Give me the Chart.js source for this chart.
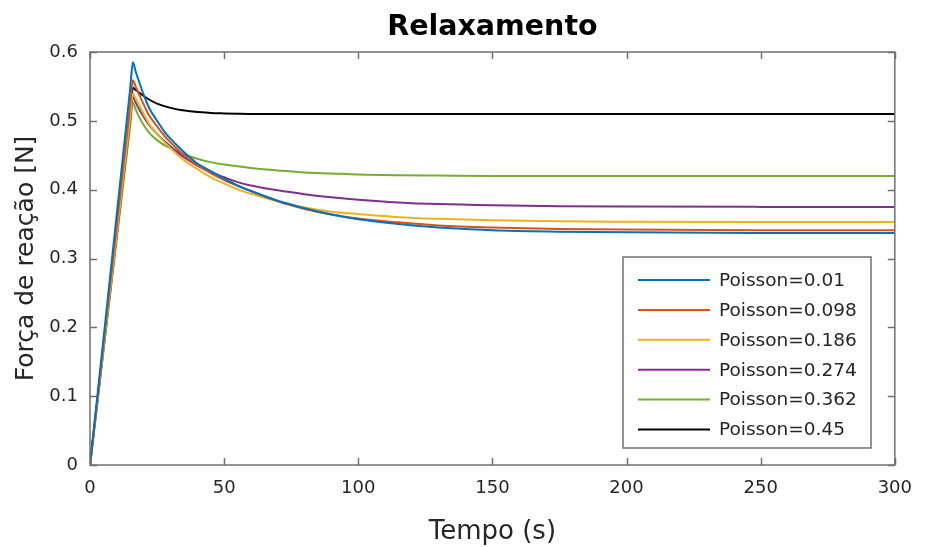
<!DOCTYPE html>
<html>
<head>
<meta charset="utf-8">
<script src="https://cdn.jsdelivr.net/npm/chart.js@4.4.1/dist/chart.umd.min.js"></script>
<style>
  html, body { margin: 0; padding: 0; background: #ffffff; }
  canvas { display: block; }
</style>
</head>
<body>
<canvas id="c" width="925" height="547"></canvas>
<script>
// ---------- data ----------
const chartTitle = 'Relaxamento';
const xAxisTitle = 'Tempo (s)';
const yAxisTitle = 'Força de reação [N]';

const time = [0, 15, 16, 17, 18, 20, 22, 25, 28, 32, 36, 40, 45, 50, 55, 60, 70, 80, 90, 100, 115, 130, 150, 175, 200, 250, 300];

const seriesLabels = ['Poisson=0.01', 'Poisson=0.098', 'Poisson=0.186', 'Poisson=0.274', 'Poisson=0.362', 'Poisson=0.45'];

const poisson001  = [0, 0.548, 0.585, 0.572, 0.560, 0.538, 0.519, 0.500, 0.483, 0.466, 0.451, 0.438, 0.427, 0.416, 0.406, 0.398, 0.384, 0.373, 0.364, 0.357, 0.350, 0.345, 0.341, 0.339, 0.338, 0.337, 0.337];
const poisson0098 = [0, 0.524, 0.559, 0.550, 0.541, 0.524, 0.508, 0.492, 0.477, 0.461, 0.447, 0.436, 0.424, 0.414, 0.406, 0.398, 0.383, 0.372, 0.364, 0.358, 0.3525, 0.348, 0.345, 0.343, 0.342, 0.341, 0.341];
const poisson0186 = [0, 0.506, 0.540, 0.532, 0.525, 0.510, 0.496, 0.481, 0.468, 0.453, 0.440, 0.430, 0.418, 0.409, 0.4005, 0.394, 0.383, 0.374, 0.368, 0.3645, 0.360, 0.3576, 0.3556, 0.354, 0.3535, 0.353, 0.353];
const poisson0274 = [0, 0.502, 0.535, 0.527, 0.519, 0.506, 0.494, 0.481, 0.4695, 0.456, 0.4445, 0.435, 0.4255, 0.418, 0.411, 0.406, 0.399, 0.3935, 0.389, 0.3855, 0.3815, 0.379, 0.3772, 0.376, 0.3755, 0.375, 0.375];
const poisson0362 = [0, 0.494, 0.527, 0.517, 0.508, 0.494, 0.483, 0.472, 0.464, 0.457, 0.450, 0.445, 0.440, 0.4365, 0.434, 0.4315, 0.428, 0.425, 0.4235, 0.422, 0.421, 0.4205, 0.420, 0.420, 0.420, 0.420, 0.420];
const poisson045  = [0, 0.514, 0.548, 0.545, 0.542, 0.536, 0.531, 0.525, 0.521, 0.517, 0.5145, 0.513, 0.5115, 0.5108, 0.5103, 0.510, 0.510, 0.510, 0.510, 0.510, 0.510, 0.510, 0.510, 0.510, 0.510, 0.510, 0.510];

const seriesValues = [poisson001, poisson0098, poisson0186, poisson0274, poisson0362, poisson045];
const seriesColors = ['#0072BD', '#D95319', '#EDB120', '#7E2F8E', '#77AC30', '#000000'];

const xTicks = [0, 50, 100, 150, 200, 250, 300];
const yTicks = [0, 0.1, 0.2, 0.3, 0.4, 0.5, 0.6];
const xMin = 0, xMax = 300, yMin = 0, yMax = 0.6;

// ---------- styling ----------
const FONT = '"DejaVu Sans", "Liberation Sans", Arial, sans-serif';
const AXIS_COLOR = '#262626';
const FRAME_COLOR = '#707070';

const datasets = seriesLabels.map((lab, i) => ({
  label: lab,
  data: time.map((t, k) => ({ x: t, y: seriesValues[i][k] })),
  borderColor: seriesColors[i],
  backgroundColor: seriesColors[i],
  borderWidth: 2,
  pointRadius: 0,
  cubicInterpolationMode: 'monotone',
  fill: false
}));

const matlabDecor = {
  id: 'matlabDecor',
  afterDraw(chart) {
    const { ctx, chartArea: a, scales } = chart;
    const xs = scales.x, ys = scales.y;
    ctx.save();

    // axes box
    ctx.strokeStyle = FRAME_COLOR;
    ctx.lineWidth = 1.5;
    ctx.strokeRect(a.left, a.top, a.right - a.left, a.bottom - a.top);

    // inward tick marks on all four sides
    const L = 7;
    ctx.beginPath();
    xs.ticks.forEach(t => {
      const px = Math.round(xs.getPixelForValue(t.value)) + 0.5;
      ctx.moveTo(px, a.bottom); ctx.lineTo(px, a.bottom - L);
      ctx.moveTo(px, a.top); ctx.lineTo(px, a.top + L);
    });
    ys.ticks.forEach(t => {
      const py = Math.round(ys.getPixelForValue(t.value)) + 0.5;
      ctx.moveTo(a.left, py); ctx.lineTo(a.left + L, py);
      ctx.moveTo(a.right, py); ctx.lineTo(a.right - L, py);
    });
    ctx.stroke();

    // legend box (inside the axes, lower right)
    const lgX = 623, lgY = 257, lgW = 248, lgH = 191;
    ctx.fillStyle = '#ffffff';
    ctx.fillRect(lgX, lgY, lgW, lgH);
    ctx.strokeStyle = FRAME_COLOR;
    ctx.lineWidth = 1.5;
    ctx.strokeRect(lgX, lgY, lgW, lgH);
    ctx.font = '18.5px ' + FONT;
    ctx.textAlign = 'left';
    ctx.textBaseline = 'middle';
    chart.data.datasets.forEach((ds, i) => {
      const yy = 280 + i * 29.9;
      ctx.strokeStyle = ds.borderColor;
      ctx.lineWidth = 2;
      ctx.beginPath();
      ctx.moveTo(638, yy); ctx.lineTo(710, yy);
      ctx.stroke();
      ctx.fillStyle = AXIS_COLOR;
      ctx.fillText(ds.label, 719, yy + 1);
    });

    // chart title
    ctx.fillStyle = '#000000';
    ctx.font = 'bold 28.5px ' + FONT;
    ctx.textAlign = 'center';
    ctx.textBaseline = 'alphabetic';
    ctx.fillText(chartTitle, (a.left + a.right) / 2, 35);

    // x axis title
    ctx.fillStyle = AXIS_COLOR;
    ctx.font = '26px ' + FONT;
    ctx.fillText(xAxisTitle, (a.left + a.right) / 2, 539);

    // y axis title
    ctx.save();
    ctx.translate(33, (a.top + a.bottom) / 2);
    ctx.rotate(-Math.PI / 2);
    ctx.font = '25px ' + FONT;
    ctx.textAlign = 'center';
    ctx.textBaseline = 'alphabetic';
    ctx.fillText(yAxisTitle, 0, 0);
    ctx.restore();

    ctx.restore();
  }
};

new Chart(document.getElementById('c'), {
  type: 'line',
  data: { datasets },
  options: {
    responsive: false,
    animation: false,
    devicePixelRatio: 1,
    layout: { padding: { top: 52, right: 20, left: 0, bottom: 0 } },
    plugins: {
      legend: { display: false },
      title: { display: false },
      tooltip: { enabled: false }
    },
    scales: {
      x: {
        type: 'linear',
        min: xMin, max: xMax,
        grid: { display: false, drawTicks: false },
        border: { display: false },
        ticks: {
          color: AXIS_COLOR,
          font: { family: FONT, size: 18 },
          padding: 13,
          maxRotation: 0,
          autoSkip: false,
          callback: v => String(v)
        },
        afterBuildTicks: s => { s.ticks = xTicks.map(v => ({ value: v })); },
        afterFit: s => { s.height = 82; }
      },
      y: {
        type: 'linear',
        min: yMin, max: yMax,
        grid: { display: false, drawTicks: false },
        border: { display: false },
        ticks: {
          color: AXIS_COLOR,
          font: { family: FONT, size: 18 },
          padding: 12,
          autoSkip: false,
          callback: v => (v === 0 ? '0' : v.toFixed(1))
        },
        afterBuildTicks: s => { s.ticks = yTicks.map(v => ({ value: v })); },
        afterFit: s => { s.width = 90; }
      }
    }
  },
  plugins: [matlabDecor]
});
</script>
</body>
</html>
